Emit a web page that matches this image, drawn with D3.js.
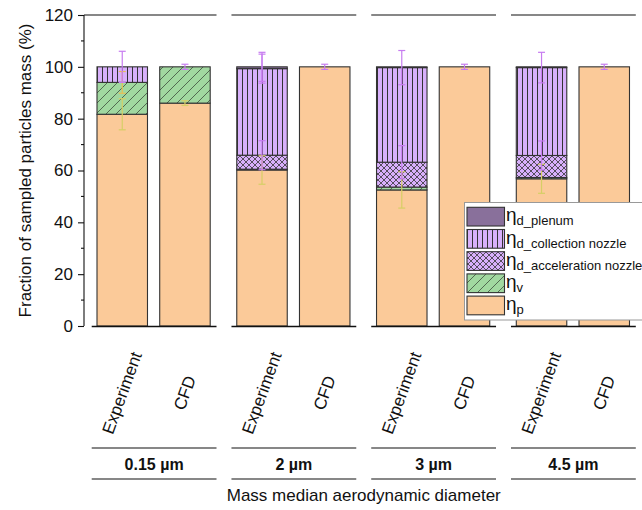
<!DOCTYPE html>
<html><head><meta charset="utf-8">
<script src="https://cdn.jsdelivr.net/npm/d3@7"></script>
<style>body{margin:0;background:#fff}svg{display:block;font-family:Arial,"Liberation Sans",sans-serif}</style>
</head><body><svg id="c" width="642" height="510"></svg>
<script>
const categories = ["0.15 µm", "2 µm", "3 µm", "4.5 µm"];
const methods = ["Experiment", "CFD"];
const yTicks = [0, 20, 40, 60, 80, 100, 120];
const yMinorTicks = [10, 30, 50, 70, 90, 110];
const seriesKeys = ["p", "v", "acc", "coll", "plenum"];
const legendNames = [
  {key: "plenum", sub: "d_plenum"},
  {key: "coll", sub: "d_collection nozzle"},
  {key: "acc", sub: "d_acceleration nozzle"},
  {key: "v", sub: "v"},
  {key: "p", sub: "p"}
];
// Experiment values (%)
const expP = [81.7, 60.2, 52.5, 56.8];
const expV = [12.3, 0.3, 1.1, 0.5];
const expAcc = [0, 5.4, 9.6, 8.5];
const expColl = [6.0, 33.4, 36.5, 33.9];
const expPlenum = [0, 0.7, 0.3, 0.3];
// CFD values (%)
const cfdP = [86.0, 100, 100, 100];
const cfdV = [14.0, 0, 0, 0];
const cfdAcc = [0, 0, 0, 0];
const cfdColl = [0, 0, 0, 0];
const cfdPlenum = [0, 0, 0, 0];
// error bars (± at the top of each stacked segment)
const expPErr = [6.0, 5.5, 7.0, 5.6];
const expVErr = [4.2, 0, 0, 0];
const expAccErr = [0, 5.6, 6.4, 5.6];
const expCollErr = [6.0, 5.6, 6.6, 5.9];
const expPlenumErr = [0, 5.6, 0, 0];
const cfdPErr = [0.9, 0, 0, 0];
const cfdTopErr = [1.0, 1.0, 1.0, 1.0];

const svg = d3.select("#c");
const fillColors = {p: "#fbca99", v: "url(#hatchV)", acc: "url(#hatchX)", coll: "url(#hatchI)", plenum: "#89709b"};
const errColors = {p: "#d6cf66", v: "#e8bf55", acc: "#c77cf0", coll: "#c77cf0", plenum: "#c77cf0"};

const defs = svg.append("defs");
let pat = defs.append("pattern").attr("id", "hatchV").attr("patternUnits", "userSpaceOnUse").attr("width", 10).attr("height", 10);
pat.append("rect").attr("width", 10).attr("height", 10).attr("fill", "#a1d8a0");
pat.append("path").attr("d", "M0,10L10,0M-2.5,2.5L2.5,-2.5M7.5,12.5L12.5,7.5").attr("stroke", "#2f3a2f").attr("stroke-width", 0.7);
pat = defs.append("pattern").attr("id", "hatchI").attr("patternUnits", "userSpaceOnUse").attr("width", 5).attr("height", 10);
pat.append("rect").attr("width", 5).attr("height", 10).attr("fill", "#d8b0fb");
pat.append("path").attr("d", "M2.5,0L2.5,10").attr("stroke", "#333").attr("stroke-width", 1);
pat = defs.append("pattern").attr("id", "hatchX").attr("patternUnits", "userSpaceOnUse").attr("width", 6).attr("height", 6);
pat.append("rect").attr("width", 6).attr("height", 6).attr("fill", "#d8b0fb");
pat.append("path").attr("d", "M0,0L6,6M6,0L0,6").attr("stroke", "#333").attr("stroke-width", 0.8);

const y = d3.scaleLinear().domain([0, 120]).range([326, 15]);
const x0 = d3.scaleBand().domain(categories).range([91.7, 635.8]).paddingInner(0.107).paddingOuter(0);
const x1 = d3.scaleBand().domain(methods).range([5.3, 118.5]).paddingInner(0.195).paddingOuter(0);

const rows = [];
categories.forEach((c, i) => {
  rows.push({cat: c, method: "Experiment", p: expP[i], v: expV[i], acc: expAcc[i], coll: expColl[i], plenum: expPlenum[i],
    err: {p: expPErr[i], v: expVErr[i], acc: expAccErr[i], coll: expCollErr[i], plenum: expPlenumErr[i]}});
  rows.push({cat: c, method: "CFD", p: cfdP[i], v: cfdV[i], acc: cfdAcc[i], coll: cfdColl[i], plenum: cfdPlenum[i],
    err: {p: cfdPErr[i], top: cfdTopErr[i]}});
});
const stacked = d3.stack().keys(seriesKeys)(rows);

// bars
stacked.forEach(layer => {
  svg.append("g").selectAll("rect").data(layer.filter(d => d[1] - d[0] > 0)).join("rect")
    .attr("x", d => x0(d.data.cat) + x1(d.data.method))
    .attr("width", x1.bandwidth())
    .attr("y", d => y(d[1]))
    .attr("height", d => y(d[0]) - y(d[1]))
    .attr("fill", fillColors[layer.key])
    .attr("stroke", "#333").attr("stroke-width", 1.1);
});

// error bars
const errs = [];
stacked.forEach(layer => {
  layer.forEach(d => {
    const e = d.data.err[layer.key];
    if (e && d[1] - d[0] > 0) errs.push({cx: x0(d.data.cat) + x1(d.data.method) + x1.bandwidth() / 2, v: d[1], e: e, color: errColors[layer.key]});
  });
});
rows.forEach(r => { if (r.err.top) errs.push({cx: x0(r.cat) + x1(r.method) + x1.bandwidth() / 2, v: 100, e: r.err.top, color: "#c77cf0"}); });
const eg = svg.append("g");
errs.forEach(d => {
  const g = eg.append("g").attr("stroke", d.color).attr("stroke-width", 1.2).attr("fill", "none");
  g.append("line").attr("x1", d.cx).attr("x2", d.cx).attr("y1", y(d.v - d.e)).attr("y2", y(d.v + d.e));
  [d.v - d.e, d.v + d.e].forEach(t => g.append("line").attr("x1", d.cx - 3.5).attr("x2", d.cx + 3.5).attr("y1", y(t)).attr("y2", y(t)));
});

// y axis
const yAxis = svg.append("g").attr("transform", "translate(84,0)")
  .call(d3.axisLeft(y).tickValues(yTicks).tickSize(6).tickPadding(5).tickFormat(d3.format("d")));
yAxis.selectAll("text").attr("font-size", 17).attr("fill", "#111").attr("font-family", "Arial, 'Liberation Sans', sans-serif");
yAxis.selectAll("line,path").attr("stroke", "#111").attr("stroke-width", 1.1);
yAxis.select(".domain").attr("d", `M0,${y(0)}V${y(120)}`);
svg.append("g").attr("transform", "translate(84,0)").selectAll("line").data(yMinorTicks).join("line")
  .attr("x1", -3).attr("x2", 0).attr("y1", d => y(d)).attr("y2", d => y(d)).attr("stroke", "#111").attr("stroke-width", 1.1);

// panel frames (bottom and top lines per group)
categories.forEach((c, i) => {
  const xs = i === 0 ? 84 : x0(c);
  svg.append("line").attr("x1", x0(c)).attr("x2", x0(c) + x0.bandwidth()).attr("y1", y(0) + 0.5).attr("y2", y(0) + 0.5).attr("stroke", "#111").attr("stroke-width", 1.3);
  svg.append("line").attr("x1", xs).attr("x2", x0(c) + x0.bandwidth()).attr("y1", y(120)).attr("y2", y(120)).attr("stroke", "#111").attr("stroke-width", 1.1);
});

// category tick labels (rotated)
categories.forEach(c => {
  methods.forEach(m => {
    const cx = x0(c) + x1(m) + x1.bandwidth() / 2;
    svg.append("text").attr("transform", `translate(${cx},393) rotate(-70)`)
      .attr("text-anchor", "middle").attr("dominant-baseline", "central")
      .attr("font-size", 17).attr("fill", "#111").text(m);
  });
  // group label table
  svg.append("line").attr("x1", x0(c)).attr("x2", x0(c) + x0.bandwidth()).attr("y1", 448).attr("y2", 448).attr("stroke", "#111").attr("stroke-width", 1.2);
  svg.append("line").attr("x1", x0(c)).attr("x2", x0(c) + x0.bandwidth()).attr("y1", 479).attr("y2", 479).attr("stroke", "#111").attr("stroke-width", 1.2);
  svg.append("text").attr("x", x0(c) + x0.bandwidth() / 2).attr("y", 464).attr("text-anchor", "middle").attr("dominant-baseline", "central")
    .attr("font-size", 16).attr("font-weight", "bold").attr("fill", "#111").text(c);
});

// axis titles
svg.append("text").attr("x", (91.7 + 635.8) / 2).attr("y", 495).attr("text-anchor", "middle").attr("dominant-baseline", "central")
  .attr("font-size", 17).attr("fill", "#111").text("Mass median aerodynamic diameter");
svg.append("text").attr("transform", `translate(25,${(y(0) + y(120)) / 2}) rotate(-90)`).attr("text-anchor", "middle").attr("dominant-baseline", "central")
  .attr("font-size", 17).attr("fill", "#111").text("Fraction of sampled particles mass (%)");

// legend
const lg = svg.append("g");
lg.append("rect").attr("x", 464.5).attr("y", 202.5).attr("width", 200).attr("height", 117.5).attr("fill", "#fff").attr("stroke", "#999").attr("stroke-width", 1);
legendNames.forEach((l, i) => {
  const yy = 207.3 + i * 22.2;
  lg.append("rect").attr("x", 467).attr("y", yy).attr("width", 37.5).attr("height", 18.7)
    .attr("fill", fillColors[l.key]).attr("stroke", "#333").attr("stroke-width", 1.1);
  const t = lg.append("text").attr("x", 506).attr("y", yy + 14).attr("fill", "#111");
  t.append("tspan").attr("font-size", 19).text("η");
  t.append("tspan").attr("font-size", 13).attr("dy", 4).text(l.sub);
});
</script></body></html>
